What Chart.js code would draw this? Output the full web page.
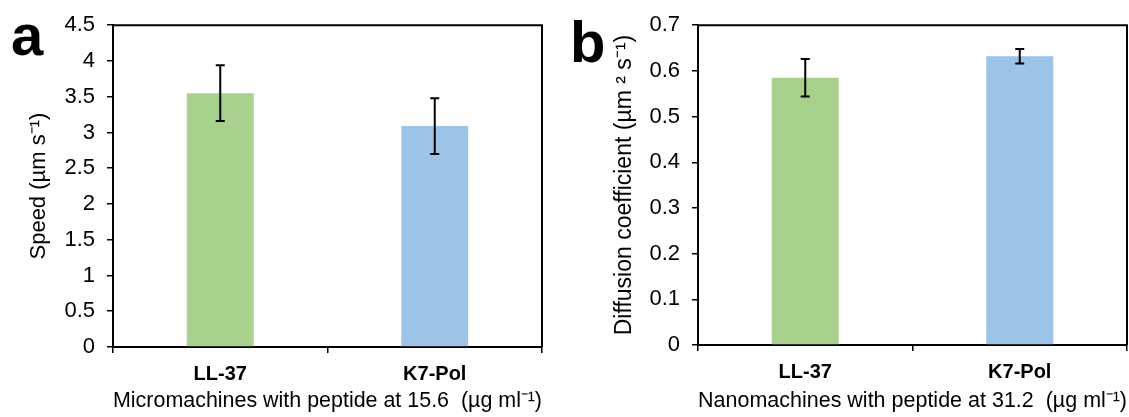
<!DOCTYPE html>
<html>
<head>
<meta charset="utf-8">
<script src="https://cdn.jsdelivr.net/npm/chart.js@4/dist/chart.umd.min.js"></script>
<style>
  html, body { margin: 0; padding: 0; background: #fff; }
  .panel { position: absolute; top: 0; height: 417px; }
  #pa { left: 0; width: 560px; }
  #pb { left: 560px; width: 569px; }
</style>
</head>
<body>
<div class="panel" id="pa"><canvas id="ca"></canvas></div>
<div class="panel" id="pb"><canvas id="cb"></canvas></div>
<script>
// ---- data ----
const categories = ['LL-37', 'K7-Pol'];
const barColors = ['#A9D18E', '#9DC3E6'];

const speedValues = [3.55, 3.09];
const speedErrors = [0.39, 0.39];
const speedTicks = [0, 0.5, 1, 1.5, 2, 2.5, 3, 3.5, 4, 4.5];

const diffValues = [0.585, 0.632];
const diffErrors = [0.041, 0.016];
const diffTicks = [0, 0.1, 0.2, 0.3, 0.4, 0.5, 0.6, 0.7];

const FONT = "'Liberation Sans', Arial, sans-serif";

const errorBarPlugin = {
  id: 'errorBars',
  afterDatasetsDraw(chart, args, opts) {
    const ctx = chart.ctx;
    const meta = chart.getDatasetMeta(0);
    const ys = chart.scales.y;
    ctx.save();
    ctx.strokeStyle = '#000';
    ctx.lineWidth = 2;
    meta.data.forEach((bar, i) => {
      const v = opts.values[i], e = opts.errors[i];
      const x = bar.x;
      const yt = ys.getPixelForValue(v + e);
      const yb = ys.getPixelForValue(v - e);
      ctx.beginPath();
      ctx.moveTo(x, yt); ctx.lineTo(x, yb);
      ctx.moveTo(x - 4.5, yt); ctx.lineTo(x + 4.5, yt);
      ctx.moveTo(x - 4.5, yb); ctx.lineTo(x + 4.5, yb);
      ctx.stroke();
    });
    ctx.restore();
  }
};

const framePlugin = {
  id: 'frame',
  afterDraw(chart, args, opts) {
    const {left, right, top, bottom} = chart.chartArea;
    const ctx = chart.ctx;
    ctx.save();
    ctx.strokeStyle = '#000';
    ctx.lineWidth = 2;
    ctx.beginPath();
    ctx.moveTo(left, top); ctx.lineTo(right, top); ctx.lineTo(right, bottom);
    ctx.stroke();
    ctx.fillStyle = '#000';
    ctx.font = 'bold 58px ' + FONT;
    ctx.textBaseline = 'alphabetic';
    ctx.textAlign = 'left';
    ctx.fillText(opts.letter, opts.lx, opts.ly);
    ctx.restore();
  }
};

function makeChart(id, cfg) {
  return new Chart(document.getElementById(id), {
    type: 'bar',
    data: {
      labels: categories,
      datasets: [{
        data: cfg.values,
        backgroundColor: barColors,
        borderWidth: 0,
        barPercentage: 0.312,
        categoryPercentage: 1.0
      }]
    },
    options: {
      responsive: true,
      maintainAspectRatio: false,
      animation: false,
      layout: { padding: { top: cfg.top, right: cfg.right, bottom: 0, left: 0 } },
      plugins: {
        legend: { display: false },
        tooltip: { enabled: false },
        errorBars: { values: cfg.values, errors: cfg.errors },
        frame: { letter: cfg.letter, lx: cfg.lx, ly: cfg.ly }
      },
      scales: {
        x: {
          offset: true,
          grid: { offset: true, drawOnChartArea: false, drawTicks: true, tickLength: 6, color: '#000', lineWidth: 1.5 },
          border: { display: true, color: '#000', width: 2 },
          ticks: { color: '#000', font: { family: FONT, size: 20, weight: 'bold' }, padding: 9, maxRotation: 0 },
          title: { display: true, text: cfg.xTitle, color: '#000', font: { family: FONT, size: 22 }, padding: { top: 0, bottom: 3 } },
          afterFit(scale) { scale.height = cfg.xh; }
        },
        y: {
          min: 0,
          max: cfg.ticks[cfg.ticks.length - 1],
          afterBuildTicks(scale) { scale.ticks = cfg.ticks.map(v => ({ value: v })); },
          grid: { drawOnChartArea: false, drawTicks: true, tickLength: 6, color: '#000', lineWidth: 1.5 },
          border: { display: true, color: '#000', width: 2 },
          ticks: { color: '#000', font: { family: FONT, size: 22 }, padding: 12, callback: (v) => String(v) },
          title: { display: true, text: cfg.yTitle, color: '#000', font: { family: FONT, size: cfg.yts }, padding: { top: cfg.ytp, bottom: 0 } },
          afterFit(scale) { scale.width = cfg.yw; }
        }
      }
    },
    plugins: [errorBarPlugin, framePlugin]
  });
}

makeChart('ca', {
  values: speedValues, errors: speedErrors, ticks: speedTicks,
  yTitle: 'Speed (µm s⁻¹)',
  xTitle: 'Micromachines with peptide at 15.6  (µg ml⁻¹)',
  top: 25, right: 18, xh: 70, yw: 113, ytp: 26, yts: 22,
  letter: 'a', lx: 11, ly: 55
});

makeChart('cb', {
  values: diffValues, errors: diffErrors, ticks: diffTicks,
  yTitle: 'Diffusion coefficient (µm ² s⁻¹)',
  xTitle: 'Nanomachines with peptide at 31.2  (µg ml⁻¹)',
  top: 24, right: 2, xh: 72, yw: 138, ytp: 51, yts: 23,
  letter: 'b', lx: 10, ly: 62
});
</script>
</body>
</html>
